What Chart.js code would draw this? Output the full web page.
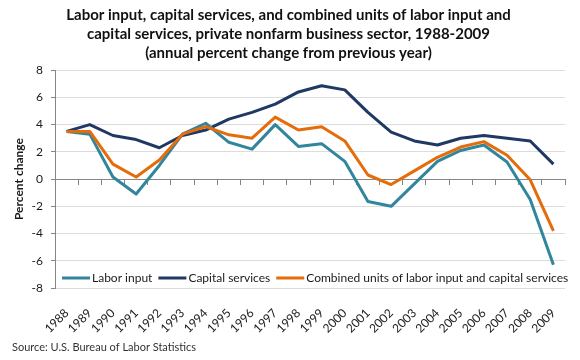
<!DOCTYPE html>
<html>
<head>
<meta charset="utf-8">
<style>
  html, body { margin: 0; padding: 0; background: #fff; }
</style>
<script src="https://cdn.jsdelivr.net/npm/chart.js@4.4.1/dist/chart.umd.min.js"></script>
</head>
<body>
<canvas id="chart" width="580" height="360"></canvas>
<script>
// categories
const years = ['1988', '1989', '1990', '1991', '1992', '1993', '1994', '1995', '1996', '1997', '1998',
               '1999', '2000', '2001', '2002', '2003', '2004', '2005', '2006', '2007', '2008', '2009'];

// annual percent change
const laborInput      = [3.5, 3.3, 0.15, -1.1, 1.0, 3.3, 4.1, 2.7, 2.2, 4.0, 2.4,
                         2.6, 1.3, -1.65, -2.0, -0.35, 1.3, 2.1, 2.5, 1.25, -1.5, -6.3];
const capitalServices = [3.5, 4.0, 3.2, 2.9, 2.3, 3.2, 3.6, 4.4, 4.9, 5.5, 6.4,
                         6.85, 6.55, 4.9, 3.45, 2.8, 2.5, 3.0, 3.2, 3.0, 2.8, 1.1];
const combinedUnits   = [3.5, 3.5, 1.1, 0.15, 1.4, 3.3, 3.85, 3.25, 3.0, 4.55, 3.6,
                         3.85, 2.8, 0.3, -0.4, 0.6, 1.6, 2.35, 2.75, 1.75, -0.05, -3.8];

// y axis range
const yMin = -8;
const yMax = 8;
const yStep = 2;

const FONT = 'Lato';
const TEXT = '#1a1a1a';

// legend drawn inside the plot, near the bottom
const insideLegend = {
    id: 'insideLegend',
    afterDatasetsDraw(chart) {
        const { ctx, chartArea } = chart;
        ctx.save();
        ctx.font = '12px ' + FONT;
        ctx.textBaseline = 'middle';
        let x = chartArea.left + 7;
        const y = chartArea.bottom - 10;
        chart.data.datasets.forEach(ds => {
            ctx.strokeStyle = ds.borderColor;
            ctx.lineWidth = 3;
            ctx.beginPath();
            ctx.moveTo(x, y);
            ctx.lineTo(x + 28, y);
            ctx.stroke();
            ctx.fillStyle = TEXT;
            ctx.fillText(ds.label, x + 30, y);
            x += 30 + ctx.measureText(ds.label).width + 6;
        });
        ctx.restore();
    }
};

function lineSet(label, data, color, order) {
    return {
        label: label,
        data: data,
        borderColor: color,
        backgroundColor: color,
        borderWidth: 3,
        pointRadius: 0,
        tension: 0,
        fill: false,
        borderJoinStyle: 'round',
        order: order
    };
}

new Chart(document.getElementById('chart').getContext('2d'), {
    type: 'line',
    data: {
        labels: years,
        datasets: [
            lineSet('Labor input', laborInput, '#31859c', 1),
            lineSet('Capital services', capitalServices, '#1f3864', 2),
            lineSet('Combined units of labor input and capital services', combinedUnits, '#e46c0a', 0)
        ]
    },
    options: {
        responsive: false,
        animation: false,
        layout: { padding: { left: 12, right: 15, top: 0, bottom: 0 } },
        plugins: {
            legend: { display: false },
            tooltip: { enabled: false },
            title: {
                display: true,
                text: [
                    'Labor input, capital services, and combined units of labor input and',
                    'capital services, private nonfarm business sector, 1988-2009',
                    '(annual percent change from previous year)'
                ],
                color: '#111',
                font: { family: FONT, size: 15, weight: 'bold', lineHeight: 1.27 },
                padding: { top: 5.5, bottom: 7.5 }
            },
            subtitle: {
                display: true,
                position: 'bottom',
                align: 'start',
                text: 'Source: U.S. Bureau of Labor Statistics',
                color: '#333',
                font: { family: FONT, size: 11, lineHeight: 1.2 },
                padding: { top: 4, bottom: 6 }
            }
        },
        scales: {
            x: {
                offset: true,
                grid: { display: false },
                border: { display: false },
                ticks: {
                    color: TEXT,
                    font: { family: FONT, size: 12 },
                    minRotation: 45,
                    maxRotation: 45,
                    autoSkip: false,
                    padding: 10
                },
                afterFit(scale) { scale.height = 48.8; }
            },
            // zero line with tick marks between categories
            x2: {
                type: 'category',
                labels: years,
                position: { y: 0 },
                offset: true,
                grid: { offset: true, drawOnChartArea: false, tickLength: 5, color: '#868686' },
                border: { display: true, color: '#868686' },
                ticks: { display: false }
            },
            y: {
                min: yMin,
                max: yMax,
                ticks: {
                    stepSize: yStep,
                    color: TEXT,
                    font: { family: FONT, size: 12 },
                    padding: 8
                },
                grid: {
                    color: '#dcdcdc',
                    tickLength: 4,
                    tickColor: '#868686'
                },
                border: { display: true, color: '#868686' },
                title: {
                    display: true,
                    text: 'Percent change',
                    color: TEXT,
                    font: { family: FONT, size: 12, weight: 'bold' },
                    padding: { top: 0, bottom: 0 }
                },
                afterFit(scale) { scale.width = 43; }
            }
        }
    },
    plugins: [insideLegend]
});
</script>
</body>
</html>
